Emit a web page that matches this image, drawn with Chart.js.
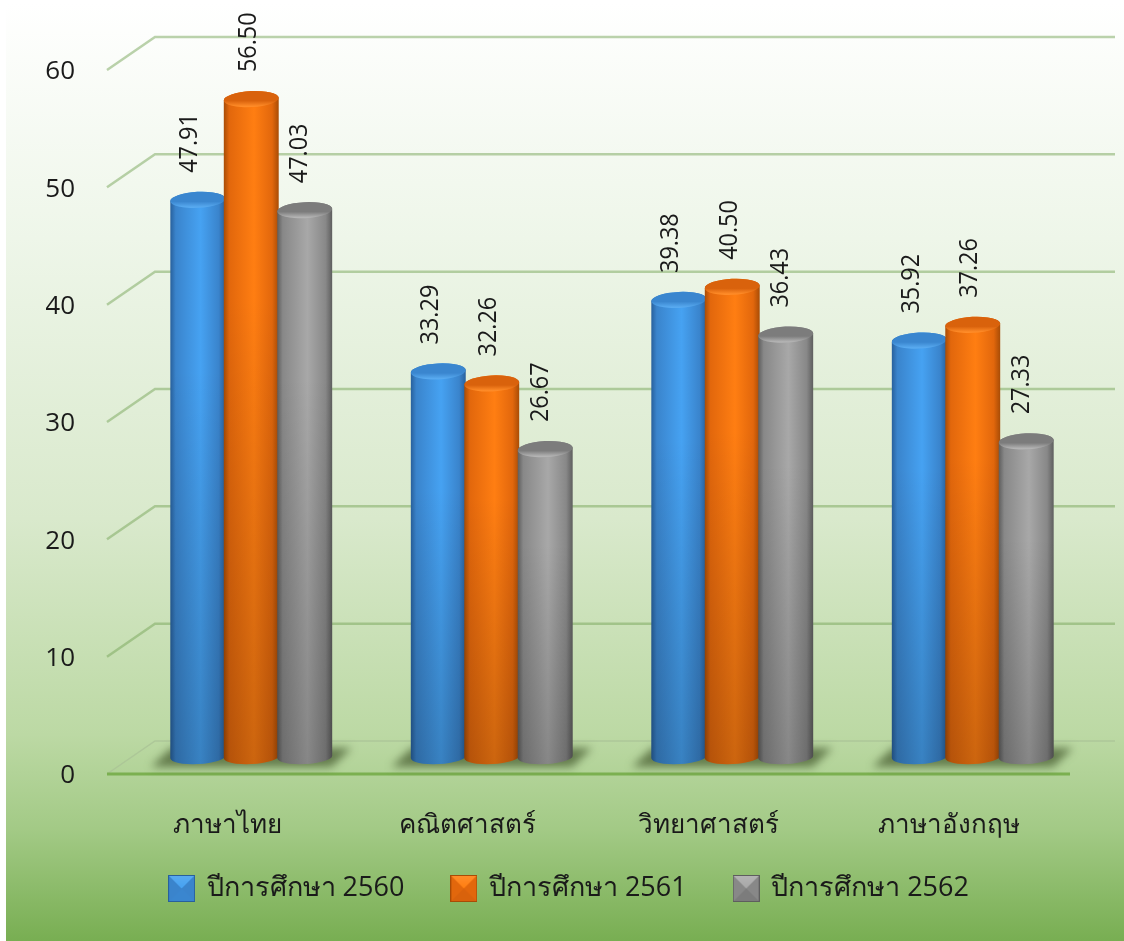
<!DOCTYPE html>
<html lang="th">
<head>
<meta charset="utf-8">
<title>ปีการศึกษา</title>
<script src="https://cdn.jsdelivr.net/npm/chart.js@4"></script>
<style>
    html, body { margin: 0; padding: 0; background: #fff; }
    canvas { display: block; }
</style>
</head>
<body>
<canvas id="myChart" width="1124" height="941"></canvas>
<script>
'use strict';

const subjects = ['ภาษาไทย', 'คณิตศาสตร์', 'วิทยาศาสตร์', 'ภาษาอังกฤษ'];
const years = ['ปีการศึกษา 2560', 'ปีการศึกษา 2561', 'ปีการศึกษา 2562'];
const values2560 = [47.91, 33.29, 39.38, 35.92];
const values2561 = [56.50, 32.26, 40.50, 37.26];
const values2562 = [47.03, 26.67, 36.43, 27.33];
const yTicks = [0, 10, 20, 30, 40, 50, 60];

const fontFamily = '"Open Sans", "Noto Sans", sans-serif';
const textColor = '#1a1a1a';

// bar colours: [edge, side, centre, cap, cap rim]
const shades = [
    ['#28609c', '#3a84cc', '#46a2f2', '#3a86cf', '#58aaf0'],
    ['#a84c06', '#e2670c', '#ff7e12', '#d9620c', '#ff8c28'],
    ['#5e5e5e', '#888888', '#a8a8a8', '#7c7c7c', '#b4b4b4'],
];

// the floor is drawn with the front edge in front of the bars, the back wall behind them
const frontDx = -24, frontDy = 12, backDx = 24, backDy = -21;

// sideways nudge of the value labels, per series
const labelDx = [-8, -3, -5];

function swatch(c) {
    let cv = document.createElement('canvas');
    cv.width = 27;
    cv.height = 27;
    let g = cv.getContext('2d');
    g.fillStyle = c[0];
    g.fillRect(0, 0, 27, 27);
    g.fillStyle = c[1];
    g.fillRect(1, 1, 25, 25);
    let tri = g.createLinearGradient(0, 1, 0, 13);
    tri.addColorStop(0, c[4]);
    tri.addColorStop(1, c[2]);
    g.fillStyle = tri;
    g.beginPath();
    g.moveTo(1, 1);
    g.lineTo(26, 1);
    g.lineTo(13.5, 13.5);
    g.closePath();
    g.fill();
    g.fillStyle = c[3];
    g.beginPath();
    g.moveTo(1, 26);
    g.lineTo(26, 26);
    g.lineTo(13.5, 13.5);
    g.closePath();
    g.fill();
    return cv;
}

const swatches = shades.map(swatch);

const backgroundPlugin = {
    id: 'panel',
    // x tick labels sit lower than the scale box leaves room for, and get clipped to it
    afterLayout(chart) {
        chart.scales.x.bottom += 40;
    },
    beforeDraw(chart) {
        let ctx = chart.ctx;
        let g = ctx.createLinearGradient(0, 3, 0, 941);
        g.addColorStop(0, '#ffffff');
        g.addColorStop(0.25, '#eef6e9');
        g.addColorStop(0.55, '#d9e9cc');
        g.addColorStop(0.78, '#bcd9a4');
        g.addColorStop(0.88, '#a3ca86');
        g.addColorStop(1, '#78ae52');
        ctx.fillStyle = g;
        ctx.fillRect(6, 3, 1118, 938);
    },
};

const wallPlugin = {
    id: 'wall',
    beforeDatasetsDraw(chart) {
        let ctx = chart.ctx;
        let area = chart.chartArea;
        let y = chart.scales.y;
        ctx.save();
        ctx.lineWidth = 2.5;
        yTicks.forEach(v => {
            if (v === 0) return;
            let py = y.getPixelForValue(v);
            ctx.strokeStyle = 'rgba(120,165,90,0.5)';
            ctx.beginPath();
            ctx.moveTo(area.left + frontDx, py + frontDy);
            ctx.lineTo(area.left + backDx, py + backDy);
            ctx.lineTo(area.right + 22, py + backDy);
            ctx.stroke();
        });

        // floor
        let py = y.getPixelForValue(0);
        ctx.lineWidth = 1.5;
        ctx.strokeStyle = 'rgba(170,195,150,0.8)';
        ctx.beginPath();
        ctx.moveTo(area.left + frontDx, py + frontDy);
        ctx.lineTo(area.left + backDx, py + backDy);
        ctx.lineTo(area.right + 22, py + backDy);
        ctx.stroke();
        ctx.lineWidth = 3;
        ctx.strokeStyle = '#7bb050';
        ctx.beginPath();
        ctx.moveTo(area.left + frontDx, py + frontDy);
        ctx.lineTo(area.right - 23, py + frontDy);
        ctx.stroke();

        // bar shadows on the floor
        ctx.filter = 'blur(4px)';
        ctx.fillStyle = 'rgba(62,82,40,0.68)';
        subjects.forEach((s, i) => {
            let first = chart.getDatasetMeta(0).data[i];
            let last = chart.getDatasetMeta(2).data[i];
            let l = first.x - first.width / 2;
            let r = last.x + last.width / 2;
            ctx.beginPath();
            ctx.moveTo(l - 20, py + 5);
            ctx.lineTo(l, py - 14);
            ctx.lineTo(r + 20, py - 14);
            ctx.lineTo(r, py + 5);
            ctx.closePath();
            ctx.fill();
        });
        ctx.restore();
    },
};

function drawCylinder(ctx, bar, c) {
    let w = bar.width + 1.5;
    let l = bar.x - w / 2;
    let r = bar.x + w / 2;
    let ry = 8;
    let tilt = -0.05;
    let top = bar.y;
    let bottom = bar.base - 5;

    ctx.save();
    ctx.beginPath();
    ctx.ellipse(bar.x, bottom, w / 2, ry - 1, tilt, Math.PI, 0, true);
    ctx.ellipse(bar.x, top, w / 2, ry, tilt, 0, Math.PI, true);
    ctx.closePath();

    let g = ctx.createLinearGradient(l, 0, r, 0);
    g.addColorStop(0, c[0]);
    g.addColorStop(0.1, c[1]);
    g.addColorStop(0.55, c[2]);
    g.addColorStop(0.88, c[1]);
    g.addColorStop(1, c[0]);
    ctx.fillStyle = g;
    ctx.fill();

    // darkens towards the floor
    let dark = ctx.createLinearGradient(0, top, 0, bottom + ry);
    dark.addColorStop(0, 'rgba(0,0,0,0)');
    dark.addColorStop(0.3, 'rgba(0,0,0,0)');
    dark.addColorStop(1, 'rgba(0,0,0,0.2)');
    ctx.fillStyle = dark;
    ctx.fill();

    // cap
    ctx.beginPath();
    ctx.ellipse(bar.x, top, w / 2, ry, tilt, 0, Math.PI * 2);
    let rim = ctx.createLinearGradient(0, top - ry, 0, top + ry);
    rim.addColorStop(0, c[3]);
    rim.addColorStop(0.6, c[3]);
    rim.addColorStop(0.95, c[4]);
    ctx.fillStyle = rim;
    ctx.fill();
    ctx.restore();
}

const cylinderPlugin = {
    id: 'cylinders',
    afterDatasetsDraw(chart) {
        let ctx = chart.ctx;
        chart.data.datasets.forEach((ds, d) => {
            chart.getDatasetMeta(d).data.forEach((bar, i) => {
                drawCylinder(ctx, bar, shades[d]);
            });
        });

        // value labels, read upwards
        ctx.save();
        ctx.fillStyle = textColor;
        ctx.font = '26px ' + fontFamily;
        ctx.textBaseline = 'middle';
        ctx.textAlign = 'left';
        chart.data.datasets.forEach((ds, d) => {
            chart.getDatasetMeta(d).data.forEach((bar, i) => {
                ctx.save();
                ctx.translate(bar.x + labelDx[d], bar.y - 27);
                ctx.rotate(-Math.PI / 2);
                ctx.scale(0.9, 1);
                ctx.fillText(ds.data[i].toFixed(2), 0, 0);
                ctx.restore();
            });
        });
        ctx.restore();
    },
};

let datasets = [values2560, values2561, values2562].map((data, d) => ({
    label: years[d],
    data: data,
    backgroundColor: 'rgba(0,0,0,0)',
    borderWidth: 0,
    categoryPercentage: 0.667,
    barPercentage: 1,
}));

let ctx = document.getElementById('myChart').getContext('2d');
let myChart = new Chart(ctx, {
    type: 'bar',
    data: { labels: subjects, datasets: datasets },
    plugins: [backgroundPlugin, wallPlugin, cylinderPlugin],
    options: {
        responsive: false,
        animation: false,
        layout: { padding: { left: 46, right: 31, top: 58, bottom: 29 } },
        plugins: {
            tooltip: { enabled: false },
            legend: {
                position: 'bottom',
                labels: {
                    usePointStyle: true,
                    boxHeight: 27,
                    boxWidth: 23,
                    pointStyleWidth: 23,
                    padding: 48,
                    color: textColor,
                    font: { family: fontFamily, size: 27 },
                    generateLabels(chart) {
                        return Chart.defaults.plugins.legend.labels.generateLabels(chart)
                            .map(item => Object.assign(item, { pointStyle: swatches[item.datasetIndex] }));
                    },
                },
            },
        },
        scales: {
            x: {
                grid: { display: false, drawTicks: false },
                border: { display: false },
                afterFit(scale) { scale.height = 65; },
                ticks: {
                    color: textColor,
                    padding: 48,
                    maxRotation: 0,
                    labelOffset: -24,
                    font: { family: fontFamily, size: 26 },
                },
            },
            y: {
                min: 0,
                max: 60,
                grid: { display: false, drawTicks: false },
                border: { display: false },
                afterFit(scale) {
                    scale.width = 85;
                    // the tick padding would otherwise also push the top of the plot down
                    scale.paddingTop = 0;
                    scale.paddingBottom = 0;
                },
                afterBuildTicks(scale) { scale.ticks = yTicks.map(v => ({ value: v })); },
                ticks: {
                    color: textColor,
                    padding: 56,
                    labelOffset: 14,
                    font: { family: fontFamily, size: 26 },
                },
            },
        },
    },
});
</script>
</body>
</html>
